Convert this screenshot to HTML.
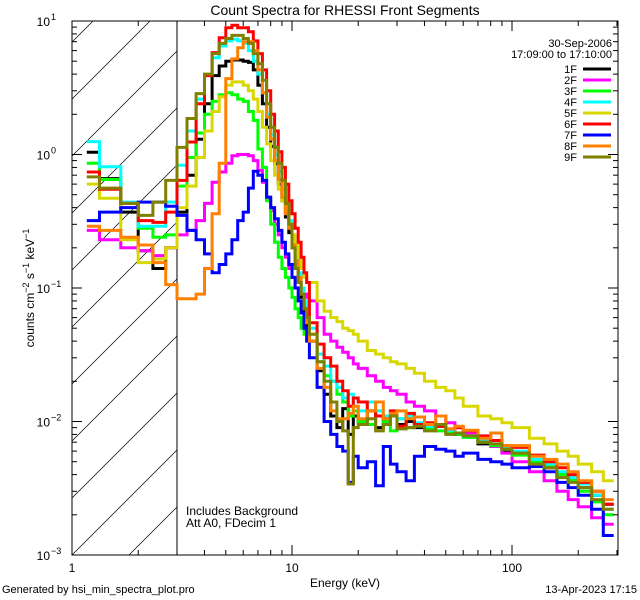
<!DOCTYPE html>
<html><head><meta charset="utf-8">
<style>
html,body{margin:0;padding:0;background:#fff;width:640px;height:600px;overflow:hidden;}
svg{display:block;font-family:"Liberation Sans",sans-serif;overflow:hidden;}
</style></head>
<body>
<svg id="chart" width="640" height="600" viewBox="0 0 640 600" xmlns="http://www.w3.org/2000/svg">
<rect x="0" y="0" width="640" height="600" fill="#fff"/>
<text x="345" y="15" font-size="14" text-anchor="middle">Count Spectra for RHESSI Front Segments</text>
<defs><clipPath id="plotclip"><rect x="72" y="21" width="546" height="534"/></clipPath></defs>
<g id="hatch"></g>
<line x1="177" y1="21" x2="177" y2="555" stroke="#000" stroke-width="1"/>
<g id="series" clip-path="url(#plotclip)"></g>
<rect x="72" y="21" width="546" height="534" fill="none" stroke="#000" stroke-width="1"/>
<g id="axes"></g>
<text x="345" y="587" font-size="12" text-anchor="middle">Energy (keV)</text>
<text transform="translate(34,288) rotate(-90)" font-size="12" text-anchor="middle">counts cm<tspan dy="-5" font-size="9">−2</tspan><tspan dy="5"> s</tspan><tspan dy="-5" font-size="9">−1</tspan><tspan dy="5"> keV</tspan><tspan dy="-5" font-size="9">−1</tspan></text>
<text x="186" y="515" font-size="12">Includes Background</text>
<text x="186" y="527" font-size="12">Att A0, FDecim 1</text>
<text x="2" y="593" font-size="11">Generated by hsi_min_spectra_plot.pro</text>
<text x="637" y="593" font-size="11" text-anchor="end">13-Apr-2023 17:15</text>
<text x="612" y="47" font-size="11" text-anchor="end">30-Sep-2006</text>
<text x="612" y="58" font-size="11" text-anchor="end">17:09:00 to 17:10:00</text>
<g id="legend"></g>
</svg>
<script>
const edges=[1.167,1.333,1.667,2,2.333,2.667,3,3.333,3.667,4,4.333,4.667,5,5.333,5.667,6,6.333,6.667,7,7.333,7.667,8,8.333,8.667,9,9.333,9.667,10,10.333,10.667,11,11.333,11.667,12,13,14,15,16,17,18,19,20,22,24,26,28,30,33,36,40,45,50,55,60,70,80,90,100,120,140,160,180,200,230,260,290];
const seriesNames=["1F","2F","3F","4F","5F","6F","7F","8F","9F"];
const seriesColors=["#000000","#ff00ff","#00ff00","#00ffff","#d8d800","#ff0000","#0000ff","#ff8000","#808000"];
const s1F=[1.04,0.66,0.37,0.19,0.14,0.2,0.37,0.7,1.3,2.4,3.9,4.6,5.0,5.1,5.1,5.0,4.9,4.3,3.3,2.4,1.6,1.15,0.85,0.6,0.45,0.34,0.26,0.2,0.15,0.11,0.085,0.065,0.05,0.04,0.024,0.016,0.011,0.009,0.0125,0.008,0.011,0.01,0.012,0.009,0.0105,0.011,0.0095,0.01,0.009,0.0088,0.0092,0.0085,0.008,0.0078,0.0068,0.0072,0.006,0.0058,0.005,0.0045,0.004,0.0036,0.0032,0.0028,0.0024];
const s2F=[0.27,0.23,0.2,0.19,0.175,0.2,0.25,0.27,0.32,0.43,0.62,0.74,0.86,0.98,1.0,1.0,0.98,0.9,0.76,0.62,0.47,0.38,0.3,0.25,0.2,0.17,0.14,0.12,0.1,0.1,0.095,0.09,0.085,0.08,0.06,0.045,0.04,0.036,0.033,0.03,0.027,0.025,0.022,0.02,0.018,0.017,0.016,0.014,0.013,0.012,0.011,0.0098,0.009,0.0082,0.0072,0.0065,0.0058,0.005,0.0042,0.0036,0.003,0.0026,0.0023,0.0019,0.0017];
const s3F=[0.86,0.65,0.43,0.28,0.24,0.25,0.58,0.95,1.45,2.0,2.5,2.8,2.9,2.8,2.6,2.5,2.1,1.8,1.1,0.8,0.45,0.3,0.22,0.17,0.14,0.12,0.1,0.085,0.07,0.06,0.05,0.045,0.04,0.04,0.028,0.022,0.02,0.016,0.014,0.011,0.012,0.01,0.0095,0.011,0.01,0.0085,0.0105,0.009,0.0095,0.0088,0.0085,0.0082,0.008,0.0076,0.007,0.0066,0.0062,0.0056,0.005,0.0046,0.004,0.0036,0.003,0.0025,0.002];
const s4F=[1.25,0.81,0.44,0.29,0.29,0.44,0.83,1.5,2.6,3.9,5.3,6.5,7.1,7.3,7.1,6.8,6.0,5.0,4.0,2.9,2.0,1.4,1.0,0.75,0.55,0.42,0.32,0.24,0.18,0.13,0.1,0.08,0.065,0.05,0.032,0.026,0.02,0.018,0.015,0.016,0.013,0.012,0.014,0.012,0.011,0.012,0.0105,0.011,0.0098,0.0092,0.0095,0.0086,0.0082,0.0078,0.0074,0.0068,0.0065,0.006,0.0052,0.0048,0.0042,0.0038,0.0034,0.0028,0.0022];
const s5F=[0.6,0.47,0.23,0.155,0.165,0.2,0.4,0.58,0.95,1.5,2.1,2.7,3.3,3.5,3.5,3.3,3.0,2.6,2.1,1.6,1.2,0.9,0.7,0.55,0.45,0.37,0.3,0.25,0.21,0.17,0.14,0.12,0.11,0.11,0.08,0.067,0.06,0.056,0.05,0.048,0.045,0.04,0.034,0.032,0.03,0.028,0.027,0.025,0.023,0.02,0.018,0.017,0.015,0.013,0.011,0.0105,0.0098,0.009,0.0075,0.0068,0.006,0.0055,0.0048,0.0042,0.0036];
const s6F=[0.74,0.55,0.43,0.32,0.31,0.37,0.64,1.24,2.4,3.9,5.8,7.5,8.9,9.3,8.9,8.9,8.3,7.1,5.7,4.3,3.0,2.0,1.5,1.05,0.8,0.6,0.45,0.36,0.28,0.22,0.17,0.13,0.11,0.055,0.038,0.03,0.026,0.02,0.017,0.013,0.015,0.014,0.012,0.011,0.0105,0.012,0.0092,0.0115,0.0095,0.0098,0.0092,0.0088,0.009,0.0085,0.0078,0.0072,0.0066,0.0064,0.0056,0.005,0.0045,0.004,0.0035,0.003,0.0024];
const s7F=[0.32,0.37,0.4,0.44,0.44,0.41,0.35,0.27,0.23,0.18,0.13,0.15,0.18,0.23,0.32,0.37,0.56,0.75,0.7,0.64,0.48,0.4,0.33,0.27,0.22,0.18,0.15,0.12,0.1,0.08,0.065,0.05,0.04,0.03,0.018,0.01,0.008,0.0065,0.006,0.0035,0.0055,0.0045,0.005,0.0033,0.0065,0.0048,0.0042,0.0036,0.0055,0.0065,0.0062,0.006,0.0055,0.0058,0.0052,0.005,0.0048,0.0045,0.0046,0.0042,0.0035,0.0032,0.0028,0.0022,0.0014];
const s8F=[0.29,0.27,0.24,0.21,0.155,0.106,0.083,0.083,0.09,0.14,0.36,0.86,3.7,5.2,6.3,7.0,7.0,6.0,4.3,2.9,1.9,1.3,0.9,0.65,0.48,0.36,0.28,0.21,0.16,0.12,0.09,0.07,0.055,0.04,0.025,0.018,0.012,0.0105,0.0105,0.0115,0.013,0.0105,0.012,0.014,0.0105,0.0115,0.012,0.0105,0.0108,0.0095,0.011,0.0088,0.0092,0.0086,0.0075,0.0082,0.0066,0.0066,0.0055,0.0052,0.0048,0.0042,0.0036,0.003,0.0026];
const s9F=[0.68,0.56,0.43,0.35,0.44,0.64,1.13,1.86,2.86,4.0,5.7,6.8,7.4,7.8,7.8,7.4,6.8,5.7,4.8,3.6,2.4,1.6,1.13,0.86,0.64,0.43,0.3,0.2,0.14,0.11,0.09,0.07,0.06,0.045,0.028,0.02,0.014,0.01,0.0085,0.0034,0.009,0.0095,0.0105,0.0085,0.0095,0.011,0.0088,0.009,0.0092,0.0085,0.0095,0.008,0.0082,0.0078,0.007,0.0068,0.0062,0.0058,0.0048,0.0045,0.0038,0.0035,0.0032,0.0026,0.0022];
const xTickLabels=["1","10","100"];
const xTickValues=[1,10,100];
const yTickExps=[1,0,-1,-2,-3];
const allSeries=[s1F,s2F,s3F,s4F,s5F,s6F,s7F,s8F,s9F];

const NS="http://www.w3.org/2000/svg";
const PL=72,PR=618,PT=21,PB=555,XDEC=220,YDEC=133.5,HR=177;
function xs(e){return PL+Math.log10(e)*XDEC;}
function ys(v){return PT+(1-Math.log10(v))*YDEC;}
function mk(tag,attrs,parent){const el=document.createElementNS(NS,tag);for(const k in attrs)el.setAttribute(k,attrs[k]);parent.appendChild(el);return el;}

// hatch: lines y = y0 - (x - PL), segments clipped manually to hatch box
const hatch=document.getElementById('hatch');
for(let y0=PB+2*57-57*12;y0<=PB+(HR-PL);y0+=57){
  let xa=PL, xb=HR;
  if(y0>PB) xa=PL+(y0-PB);
  if(y0-(xb-PL)<PT) xb=PL+(y0-PT);
  if(xb<=xa) continue;
  const ln=mk('line',{x1:xa,y1:y0-(xa-PL),x2:xb,y2:y0-(xb-PL),stroke:'#000','stroke-width':0.7},hatch);
  
  
}

const sg=document.getElementById('series');
allSeries.forEach((vals,si)=>{
  let d='';
  for(let i=0;i<vals.length;i++){
    const x0=xs(edges[i]),x1=xs(edges[i+1]),y=ys(vals[i]);
    d+=(i===0?'M':'L')+x0.toFixed(1)+','+y.toFixed(1)+'H'+x1.toFixed(1);
  }
  const p=mk('path',{d:d,fill:'none',stroke:seriesColors[si],'stroke-width':3,'stroke-linejoin':'miter'},sg);
  
  
});

const ax=document.getElementById('axes');
for(let dec=0;dec<3;dec++){
  for(let m=1;m<10;m++){
    const e=m*Math.pow(10,dec);
    const x=xs(e);
    if(x>PR)break;
    const len=m===1?10:5;
    const t1=mk('line',{x1:x,y1:PB,x2:x,y2:PB-len,stroke:'#000','stroke-width':1},ax);
    
    
    const t2=mk('line',{x1:x,y1:PT,x2:x,y2:PT+len,stroke:'#000','stroke-width':1},ax);
    
    
  }
}
xTickValues.forEach((v,i)=>{
  const t=mk('text',{x:xs(v),y:572,'font-size':12,'text-anchor':'middle'},ax);
  t.textContent=xTickLabels[i];
  
  
});
for(let ex=-3;ex<1;ex++){
  for(let m=1;m<10;m++){
    const v=m*Math.pow(10,ex);const y=ys(v);
    const len=m===1?10:5;
    const a=mk('line',{x1:PL,y1:y,x2:PL+len,y2:y,stroke:'#000','stroke-width':1},ax);
    
    
    const b=mk('line',{x1:PR,y1:y,x2:PR-len,y2:y,stroke:'#000','stroke-width':1},ax);
    
    
  }
}
yTickExps.forEach(ex=>{
  const y=ys(Math.pow(10,ex));
  const t=mk('text',{x:50,y:y+5,'font-size':12,'text-anchor':'end'},ax);
  t.textContent='10';
  
  
  const s=mk('text',{x:51,y:y-1,'font-size':9},ax);
  s.textContent=ex<0?'−'+(-ex):String(ex);
  
  
});

const lg=document.getElementById('legend');
seriesNames.forEach((n,i)=>{
  const y=69+i*11;
  const t=mk('text',{x:577,y:y+4,'font-size':11,'text-anchor':'end'},lg);
  t.textContent=n;
  
  
  const l=mk('line',{x1:583,y1:y,x2:611,y2:y,stroke:seriesColors[i],'stroke-width':3},lg);
  
  
});
</script>
</body></html>
